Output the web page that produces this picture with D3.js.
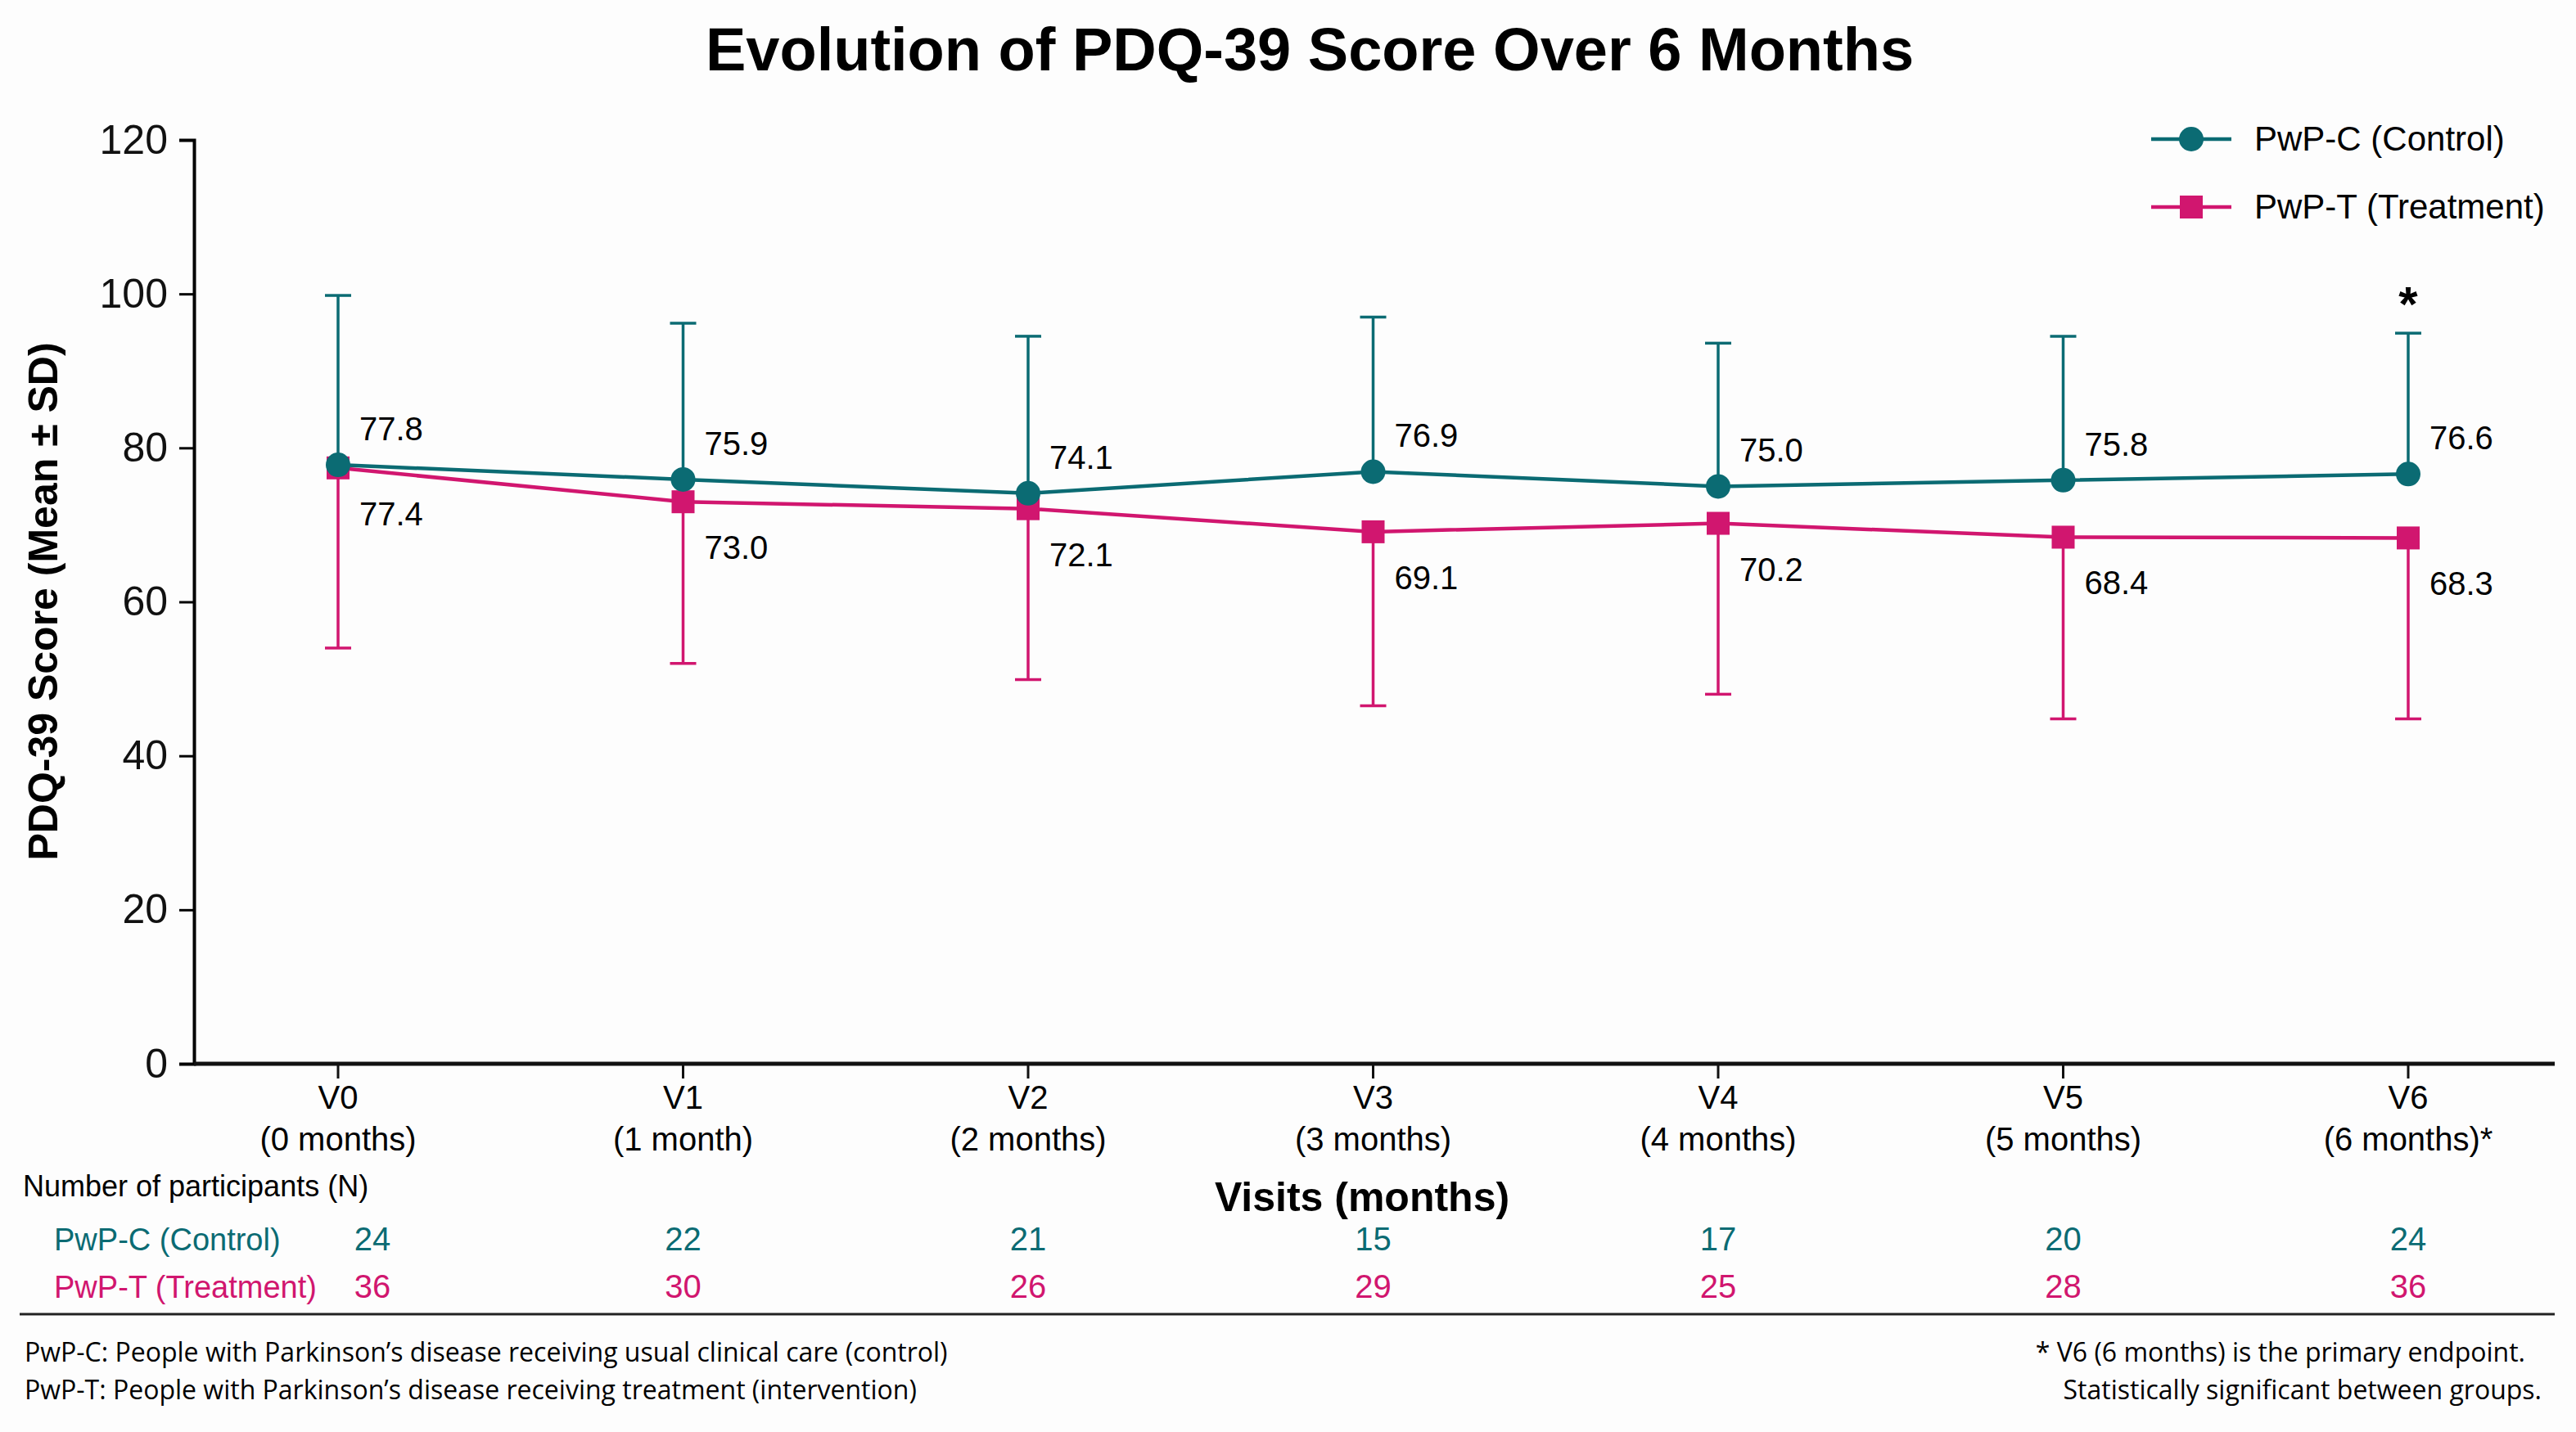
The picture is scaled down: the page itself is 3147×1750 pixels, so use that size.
<!DOCTYPE html>
<html>
<head>
    <meta charset="utf-8">
    <title>PDQ-39 Score Over 6 Months</title>
    <style type="text/css">
        body { margin: 0; background: #fdfdfd; }
        text { font-family: "Liberation Sans Narrow", "Liberation Sans", Arial, sans-serif; }
    </style>
</head>
<body>
<svg id="chart" width="3147" height="1750"></svg>

<script src="https://cdn.jsdelivr.net/npm/d3@7"></script>
<script type="text/javascript">
    // visits and tick labels
    var visits = ["V0", "V1", "V2", "V3", "V4", "V5", "V6"];
    var visitSub = ["(0 months)", "(1 month)", "(2 months)", "(3 months)", "(4 months)", "(5 months)", "(6 months)*"];
    var yTicks = [0, 20, 40, 60, 80, 100, 120];

    // means
    var controlMean = [77.8, 75.9, 74.1, 76.9, 75.0, 75.8, 76.6];
    var treatMean = [77.4, 73.0, 72.1, 69.1, 70.2, 68.4, 68.3];
    // error bar ends (mean + SD for control, mean - SD for treatment)
    var controlUpper = [99.8, 96.2, 94.5, 97.0, 93.6, 94.5, 94.9];
    var treatLower = [54.0, 52.0, 49.9, 46.5, 48.0, 44.8, 44.8];

    // participants
    var controlN = [24, 22, 21, 15, 17, 20, 24];
    var treatN = [36, 30, 26, 29, 25, 28, 36];

    var teal = "#0b6b73", pink = "#d1166f";

    var svg = d3.select("#chart");

    var x = d3.scalePoint().domain(visits).range([413, 2942]);
    var y = d3.scaleLinear().domain([0, 120]).range([1300, 171]);

    // title
    svg.append("text")
        .attr("x", 1600).attr("y", 86)
        .attr("text-anchor", "middle")
        .style("font-size", "74px").style("font-weight", "bold")
        .text("Evolution of PDQ-39 Score Over 6 Months");

    // y axis
    var yAxis = svg.append("g")
        .attr("transform", "translate(237,0)")
        .call(d3.axisLeft(y).tickValues(yTicks).tickSize(18).tickPadding(14));
    yAxis.select(".domain").attr("stroke-width", 4);
    yAxis.selectAll(".tick line").attr("stroke-width", 3);
    yAxis.selectAll("text").style("font-size", "50px").attr("fill", "#111");

    // x axis
    var xAxis = svg.append("g")
        .attr("transform", "translate(0,1300)");
    xAxis.append("line")
        .attr("x1", 237).attr("x2", 3121)
        .attr("stroke", "#111").attr("stroke-width", 5);
    xAxis.selectAll(".xt")
        .data(visits)
        .enter().append("line")
        .attr("x1", function (d) { return x(d); })
        .attr("x2", function (d) { return x(d); })
        .attr("y1", 0).attr("y2", 18)
        .attr("stroke", "#111").attr("stroke-width", 3);
    xAxis.selectAll(".xl1")
        .data(visits)
        .enter().append("text")
        .attr("x", function (d) { return x(d); })
        .attr("y", 55)
        .attr("text-anchor", "middle")
        .style("font-size", "40px")
        .text(function (d) { return d; });
    xAxis.selectAll(".xl2")
        .data(visitSub)
        .enter().append("text")
        .attr("x", function (d, i) { return x(visits[i]); })
        .attr("y", 106)
        .attr("text-anchor", "middle")
        .style("font-size", "40px")
        .text(function (d) { return d; });

    // axis titles
    svg.append("text")
        .attr("transform", "translate(70,735) rotate(-90)")
        .attr("text-anchor", "middle")
        .style("font-family", "Liberation Sans, Arial, sans-serif")
        .style("font-size", "50px").style("font-weight", "bold")
        .text("PDQ-39 Score (Mean \u00b1 SD)");
    svg.append("text")
        .attr("x", 1664).attr("y", 1480)
        .attr("text-anchor", "middle")
        .style("font-size", "50px").style("font-weight", "bold")
        .text("Visits (months)");

    // error bars
    function errorBars(means, ends, color) {
        var g = svg.append("g");
        g.selectAll("line.v")
            .data(visits)
            .enter().append("line")
            .attr("x1", function (d) { return x(d); })
            .attr("x2", function (d) { return x(d); })
            .attr("y1", function (d, i) { return y(means[i]); })
            .attr("y2", function (d, i) { return y(ends[i]); })
            .attr("stroke", color).attr("stroke-width", 3.5);
        g.selectAll("line.c")
            .data(visits)
            .enter().append("line")
            .attr("x1", function (d) { return x(d) - 16; })
            .attr("x2", function (d) { return x(d) + 16; })
            .attr("y1", function (d, i) { return y(ends[i]); })
            .attr("y2", function (d, i) { return y(ends[i]); })
            .attr("stroke", color).attr("stroke-width", 3.5);
    }
    errorBars(treatMean, treatLower, pink);
    errorBars(controlMean, controlUpper, teal);

    // lines and markers
    var line = d3.line()
        .x(function (d, i) { return x(visits[i]); })
        .y(function (d) { return y(d); });

    svg.append("path").datum(treatMean)
        .attr("d", line).attr("fill", "none")
        .attr("stroke", pink).attr("stroke-width", 4.5);
    svg.append("path").datum(controlMean)
        .attr("d", line).attr("fill", "none")
        .attr("stroke", teal).attr("stroke-width", 4.5);

    svg.selectAll("rect.m")
        .data(treatMean)
        .enter().append("rect")
        .attr("x", function (d, i) { return x(visits[i]) - 14; })
        .attr("y", function (d) { return y(d) - 14; })
        .attr("width", 28).attr("height", 28)
        .attr("fill", pink);
    svg.selectAll("circle.m")
        .data(controlMean)
        .enter().append("circle")
        .attr("cx", function (d, i) { return x(visits[i]); })
        .attr("cy", function (d) { return y(d); })
        .attr("r", 15)
        .attr("fill", teal);

    // value labels
    svg.selectAll("text.cv")
        .data(controlMean)
        .enter().append("text")
        .attr("x", function (d, i) { return x(visits[i]) + 26; })
        .attr("y", function (d) { return y(d) - 30; })
        .style("font-size", "40px")
        .text(function (d) { return d.toFixed(1); });
    svg.selectAll("text.tv")
        .data(treatMean)
        .enter().append("text")
        .attr("x", function (d, i) { return x(visits[i]) + 26; })
        .attr("y", function (d) { return y(d) + 70; })
        .style("font-size", "40px")
        .text(function (d) { return d.toFixed(1); });

    // significance asterisk
    svg.append("text")
        .attr("x", x("V6")).attr("y", 392)
        .attr("text-anchor", "middle")
        .style("font-size", "60px").style("font-weight", "bold")
        .text("*");

    // legend
    var legend = svg.append("g");
    [[teal, "PwP-C (Control)", 170, "c"], [pink, "PwP-T (Treatment)", 253, "s"]].forEach(function (d) {
        legend.append("line")
            .attr("x1", 2628).attr("x2", 2726)
            .attr("y1", d[2]).attr("y2", d[2])
            .attr("stroke", d[0]).attr("stroke-width", 4.5);
        if (d[3] == "c") {
            legend.append("circle").attr("cx", 2677).attr("cy", d[2]).attr("r", 15).attr("fill", d[0]);
        } else {
            legend.append("rect").attr("x", 2663).attr("y", d[2] - 14)
                .attr("width", 28).attr("height", 28).attr("fill", d[0]);
        }
        legend.append("text")
            .attr("x", 2754).attr("y", d[2] + 14)
            .style("font-size", "42px")
            .text(d[1]);
    });

    // participants table
    svg.append("text")
        .attr("x", 28).attr("y", 1462)
        .style("font-size", "36px")
        .text("Number of participants (N)");
    [[teal, "PwP-C (Control)", controlN, 1528], [pink, "PwP-T (Treatment)", treatN, 1586]].forEach(function (r) {
        svg.append("text")
            .attr("x", 66).attr("y", r[3])
            .attr("fill", r[0])
            .style("font-size", "38px")
            .text(r[1]);
        svg.append("g").selectAll("text")
            .data(r[2])
            .enter().append("text")
            .attr("x", function (d, i) { return i == 0 ? x(visits[i]) + 42 : x(visits[i]); })
            .attr("y", r[3])
            .attr("text-anchor", "middle")
            .attr("fill", r[0])
            .style("font-size", "40px")
            .text(function (d) { return d; });
    });

    svg.append("line")
        .attr("x1", 24).attr("x2", 3121)
        .attr("y1", 1606).attr("y2", 1606)
        .attr("stroke", "#222").attr("stroke-width", 3);

    // footnotes
    var notes = svg.append("g").style("font-size", "32px");
    notes.append("text").attr("x", 30).attr("y", 1664)
        .text("PwP-C: People with Parkinson\u2019s disease receiving usual clinical care (control)");
    notes.append("text").attr("x", 30).attr("y", 1710)
        .text("PwP-T: People with Parkinson\u2019s disease receiving treatment (intervention)");
    notes.append("text").attr("x", 3085).attr("y", 1664).attr("text-anchor", "end")
        .text("* V6 (6 months) is the primary endpoint.");
    notes.append("text").attr("x", 3105).attr("y", 1710).attr("text-anchor", "end")
        .text("Statistically significant between groups.");
    notes.selectAll("text").style("font-size", "32px").style("font-family", "Open Sans, sans-serif");
</script>
</body>
</html>
